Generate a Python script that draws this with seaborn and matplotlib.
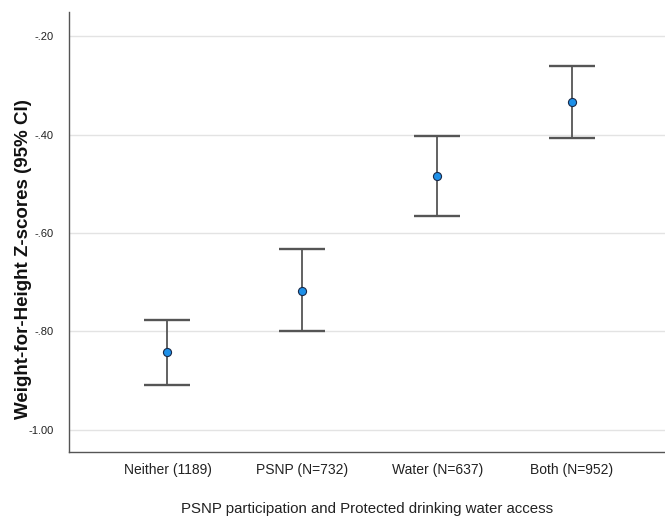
import matplotlib
matplotlib.use("Agg")
import matplotlib.pyplot as plt
import seaborn as sns
import pandas as pd
from matplotlib.ticker import FuncFormatter

groups = ['Neither (1189)', 'PSNP (N=732)', 'Water (N=637)', 'Both (N=952)']
means = [-0.842, -0.717, -0.485, -0.333]
ci_low = [-0.908, -0.800, -0.566, -0.406]
ci_high = [-0.776, -0.633, -0.403, -0.261]
yticks = [-1.00, -0.80, -0.60, -0.40, -0.20]

df = pd.DataFrame({'group': groups, 'mean': means, 'low': ci_low, 'high': ci_high})

sns.set_style('white')
plt.rcParams['font.family'] = ['Liberation Sans', 'DejaVu Sans']

fig = plt.figure(figsize=(6.65, 5.24), dpi=100)
ax = fig.add_axes([0.1038, 0.1374, 0.8962, 0.8396])

# light horizontal grid at the ticks
for v in yticks:
    ax.axhline(v, color='#e3e3e3', lw=1, zorder=0)

yerr = [df['mean'] - df['low'], df['high'] - df['mean']]
ax.errorbar(df['group'], df['mean'], yerr=yerr, fmt='none',
            ecolor='#555555', elinewidth=1.3, capsize=16.5, capthick=1.7, zorder=2)
sns.scatterplot(data=df, x='group', y='mean', ax=ax, color='#1e90e8',
                edgecolor='#1a2a4a', linewidth=0.8, s=34, marker='o', zorder=3)

ax.set_xlim(-0.73, 3.69)
ax.set_ylim(-1.045, -0.151)
ax.set_yticks(yticks)
ax.yaxis.set_major_formatter(FuncFormatter(
    lambda v, p: f'{v:.2f}'.replace('0.', '.') if abs(v) < 1 else f'{v:.2f}'))
ax.tick_params(axis='both', length=0, colors='#222222')
ax.tick_params(axis='y', labelsize=8, pad=11)
ax.tick_params(axis='x', labelsize=10, pad=8)

ax.set_xlabel('PSNP participation and Protected drinking water access', fontsize=10.8,
              color='#222222', labelpad=18)
ax.set_ylabel('Weight-for-Height Z-scores (95% CI)', fontsize=13.5, fontweight='bold',
              color='#111111')
ax.yaxis.set_label_coords(-0.062, 0.4386)

for s in ['top', 'right']:
    ax.spines[s].set_visible(False)
for s in ['left', 'bottom']:
    ax.spines[s].set_color('#555555')
    ax.spines[s].set_linewidth(1)

fig.savefig('out.png', dpi=100)
